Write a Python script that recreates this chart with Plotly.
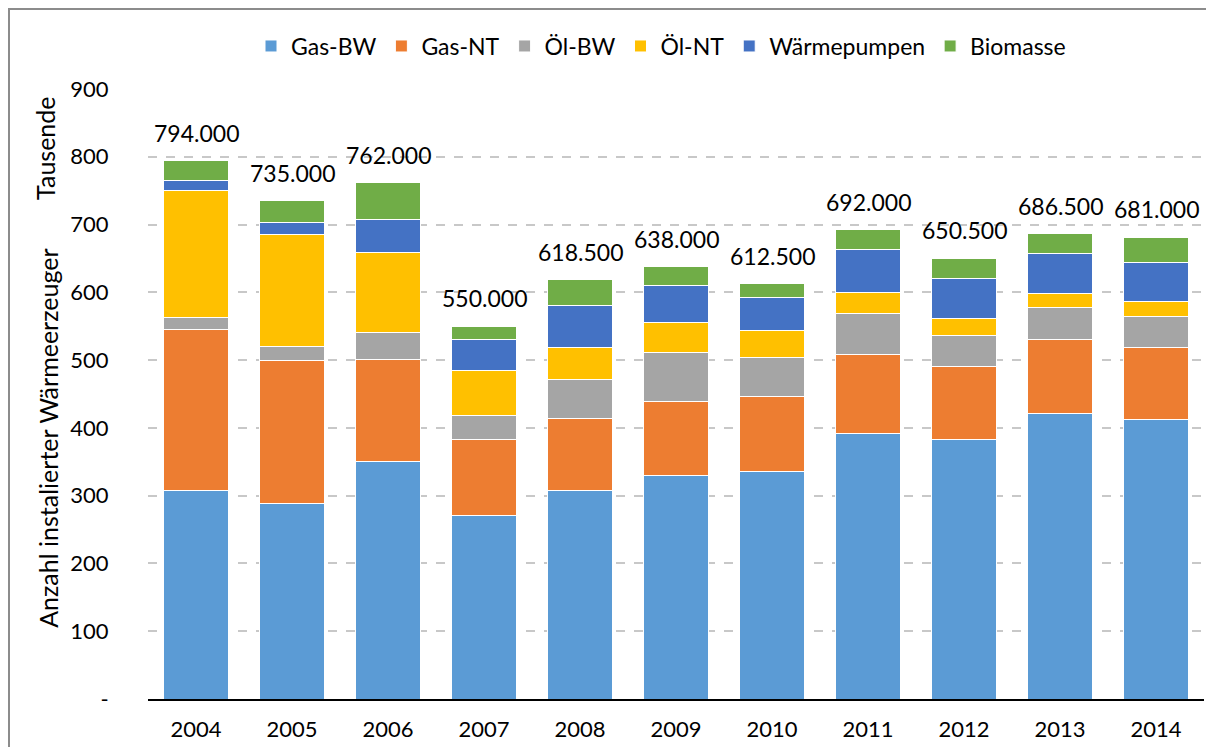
import plotly.graph_objects as go

years = [2004, 2005, 2006, 2007, 2008, 2009, 2010, 2011, 2012, 2013, 2014]
gas_bw = [307, 288, 350, 271, 308, 330, 336, 392, 383, 421, 412]
gas_nt = [238, 211, 151, 112, 106, 109, 110, 116, 107, 109, 107]
oel_bw = [18, 21, 40, 36, 57, 72, 58, 61, 47, 47, 46]
oel_nt = [187, 165, 118, 66, 48, 44, 39, 31, 24, 21, 21]
waermepumpen = [15, 18, 48, 45, 62, 55, 49.5, 63, 59, 60, 58]
biomasse = [29, 32, 55, 20, 37.5, 28, 20, 29, 30.5, 28.5, 37]
totals = [794.0, 735.0, 762.0, 550.0, 618.5, 638.0, 612.5, 692.0, 650.5, 686.5, 681.0]
y_ticks = [0, 100, 200, 300, 400, 500, 600, 700, 800, 900]
y_ticktext = ["-", "100", "200", "300", "400", "500", "600", "700", "800", "900"]

series = [
    ("Gas-BW", gas_bw, "#5B9BD5"),
    ("Gas-NT", gas_nt, "#ED7D31"),
    ("Öl-BW", oel_bw, "#A5A5A5"),
    ("Öl-NT", oel_nt, "#FFC000"),
    ("Wärmepumpen", waermepumpen, "#4472C4"),
    ("Biomasse", biomasse, "#70AD47"),
]

FONT = "Lato"

# page is rendered with an 8px body margin; plot area in page pixels:
PX0, PX1 = 148.0, 1204.0
PY0, PY1 = 89.0, 699.4


def px(xp):
    return (xp - PX0) / (PX1 - PX0)


def py(yp):
    return (PY1 - yp) / (PY1 - PY0)


fig = go.Figure()
for name, vals, col in series:
    fig.add_trace(go.Bar(
        x=years, y=vals, name=name,
        marker=dict(color=col, line=dict(color="white", width=1)),
    ))


def fmt(v):
    s = f"{v * 1000:,.0f}"
    return s.replace(",", ".")


for yr, t in zip(years, totals):
    fig.add_annotation(
        x=yr, y=t, xref="x", yref="y", text=fmt(t), showarrow=False,
        yanchor="middle", yshift=28,
        font=dict(family=FONT, size=23, color="#000000"),
    )

# axis titles
fig.add_annotation(
    xref="paper", yref="paper", x=px(48), y=py(439),
    text="Anzahl instalierter Wärmeerzeuger", textangle=-90, showarrow=False,
    xanchor="center", yanchor="middle",
    font=dict(family=FONT, size=25, color="#000000"),
)
fig.add_annotation(
    xref="paper", yref="paper", x=px(45), y=py(149),
    text="Tausende", textangle=-90, showarrow=False,
    xanchor="center", yanchor="middle",
    font=dict(family=FONT, size=25, color="#000000"),
)

# outer chart border (left and top edges visible)
fig.add_shape(
    type="rect", xref="paper", yref="paper",
    x0=px(9), x1=1.2, y0=-0.3, y1=py(9),
    line=dict(color="#8C8C8C", width=2), layer="below",
)

W, H = 1198, 739
fig.update_layout(
    width=W, height=H,
    barmode="stack", bargap=0.333,
    plot_bgcolor="white", paper_bgcolor="white",
    margin=dict(l=PX0 - 8, r=W - (PX1 - 8), t=PY0 - 8, b=H - (PY1 - 8)),
    font=dict(family=FONT, size=22, color="#000000"),
    legend=dict(
        orientation="h", x=px(661), xanchor="center",
        y=py(46), yanchor="middle",
        font=dict(family=FONT, size=23, color="#000000"),
        traceorder="normal",
    ),
    showlegend=True,
)
fig.update_xaxes(
    range=[2003.5, 2014.5], tickmode="linear", tick0=2004, dtick=1,
    showline=True, linecolor="#000000", linewidth=2,
    ticks="outside", ticklen=10, tickcolor="rgba(0,0,0,0)", showgrid=False,
    zeroline=False,
    tickfont=dict(family=FONT, size=22, color="#000000"),
)
fig.update_yaxes(
    range=[0, 900], tickvals=y_ticks, ticktext=y_ticktext,
    showgrid=True, gridcolor="#C8C8C8", griddash="dash", gridwidth=2,
    zeroline=False, showline=False,
    ticks="outside", ticklen=34, tickcolor="rgba(0,0,0,0)",
    tickfont=dict(family=FONT, size=22, color="#000000"),
)

fig.write_html("out.html")
